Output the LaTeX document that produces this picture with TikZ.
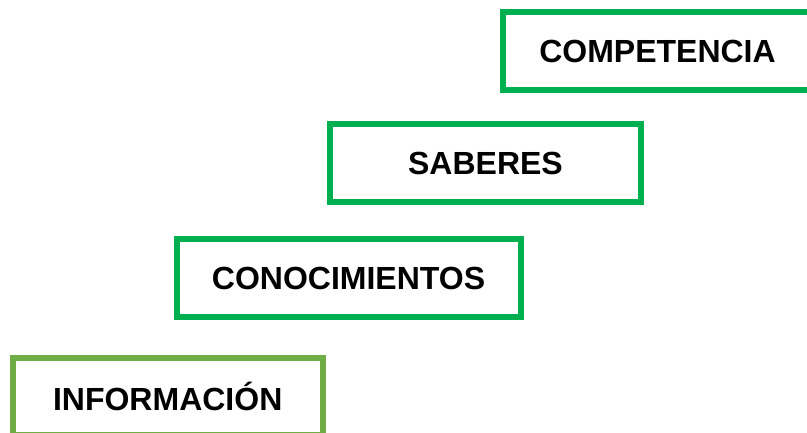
\documentclass[tikz,border=0pt]{standalone}
\usepackage{fontspec}
\setmainfont{Liberation Sans}
\definecolor{verde}{HTML}{00B050}
\definecolor{verdeclaro}{HTML}{70AD47}
\tikzset{
  caja/.style={draw=verde, line width=6pt, minimum height=78pt, inner sep=0pt,
    font=\fontsize{32}{36}\selectfont\bfseries},
}
\begin{document}
\begin{tikzpicture}[x=1pt,y=-1pt]
\useasboundingbox (0,0) rectangle (807,432);
\clip (0,0) rectangle (807,432);

\node[caja, minimum width=309pt] (competencia) at (657.5,51.1) {COMPETENCIA};
\node[caja, minimum width=310.4pt] (saberes) at (485.5,163.25) {SABERES};
\node[caja, minimum width=344pt] (conocimientos) at (348.5,278.2) {CONOCIMIENTOS};
\node[caja, draw=verdeclaro, minimum width=310pt, minimum height=77pt] (informacion) at (167.7,396.5) {INFORMACIÓN};

\end{tikzpicture}
\end{document}
